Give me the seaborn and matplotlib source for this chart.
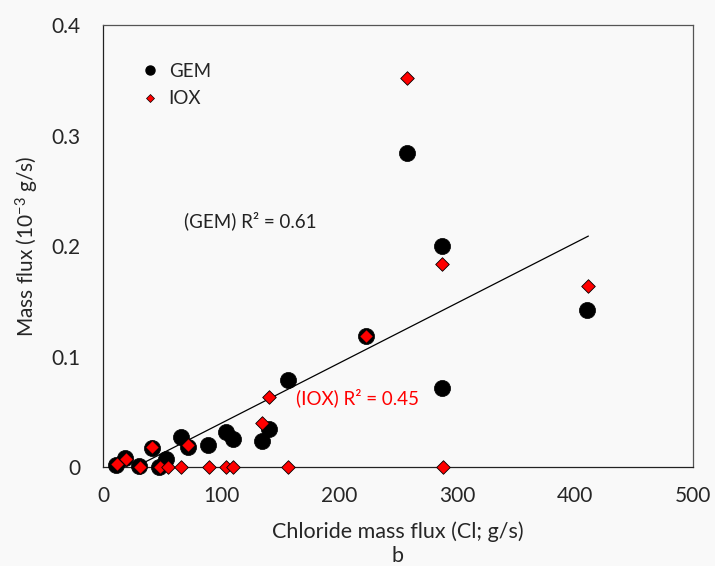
import numpy as np
import pandas as pd
import matplotlib.pyplot as plt
import seaborn as sns
from matplotlib.lines import Line2D
from matplotlib.ticker import MultipleLocator, FixedLocator, FixedFormatter

# chloride mass flux (g/s) vs mass flux (10^-3 g/s)
gem_x = [10.7, 18.6, 30.8, 41.2, 47.5, 53.0, 66.0, 71.7, 89.3, 104.2,
         110.4, 134.4, 141.0, 157.0, 222.9, 257.9, 287.3, 287.0, 410.4]
gem_y = [0.002, 0.008, 0.001, 0.0175, 0.0, 0.007, 0.027, 0.018, 0.020, 0.032,
         0.025, 0.0235, 0.034, 0.079, 0.1185, 0.2845, 0.200, 0.0712, 0.142]

iox_x = [11.6, 19.2, 31.4, 41.2, 48.3, 54.7, 66.0, 72.3, 90.0, 104.2,
         110.4, 134.4, 141.0, 157.0, 222.9, 257.9, 287.3, 287.8, 410.7]
iox_y = [0.003, 0.007, 0.0, 0.018, 0.0, 0.0, 0.0, 0.020, 0.0, 0.0,
         0.0, 0.0395, 0.0636, 0.0, 0.1185, 0.3517, 0.1837, 0.0, 0.1638]

# trendline ends
trend_x = [27.4, 411.3]
trend_y = [0.0, 0.209]

x_ticks = [0, 100, 200, 300, 400, 500]
x_ticklabels = ['0', '100', '200', '300', '400', '500']
y_ticks = [0, 0.1, 0.2, 0.3, 0.4]
y_ticklabels = ['0', '0.1', '0.2', '0.3', '0.4']

sns.set_style('white')
plt.rcParams['font.family'] = ['Lato', 'DejaVu Sans']
plt.rcParams['mathtext.fontset'] = 'custom'
plt.rcParams['mathtext.rm'] = 'Lato'
plt.rcParams['mathtext.it'] = 'Lato:italic'

bg = '#f9f9f9'
fig = plt.figure(figsize=(7.15, 5.66), dpi=100, facecolor=bg)
ax = fig.add_axes([0.1441, 0.1749, 0.8252, 0.7809])
ax.set_facecolor(bg)

gem = pd.DataFrame({'x': gem_x, 'y': gem_y})
iox = pd.DataFrame({'x': iox_x, 'y': iox_y})

sns.lineplot(x=trend_x, y=trend_y, color='black', linewidth=0.9, ax=ax, zorder=2)

sns.scatterplot(
    x='x', y='y', data=gem, ax=ax,
    color='black', marker='o', s=135,
    edgecolor='black', linewidth=0.5,
    clip_on=False, zorder=4
)
sns.scatterplot(
    x='x', y='y', data=iox, ax=ax,
    color='red', marker='D', s=48,
    edgecolor='black', linewidth=0.6,
    clip_on=False, zorder=5
)

ax.set_xlim(0, 500)
ax.set_ylim(0, 0.4)

ax.xaxis.set_major_locator(FixedLocator(x_ticks))
ax.xaxis.set_major_formatter(FixedFormatter(x_ticklabels))
ax.xaxis.set_minor_locator(MultipleLocator(50))
ax.yaxis.set_major_locator(FixedLocator(y_ticks))
ax.yaxis.set_major_formatter(FixedFormatter(y_ticklabels))
ax.yaxis.set_minor_locator(MultipleLocator(0.05))

ax.tick_params(which='major', direction='out', length=5, width=0.9,
               color='#222222', labelsize=15, pad=9)
ax.tick_params(which='minor', direction='out', length=10.5, width=0.9,
               color='#222222')
ax.tick_params(axis='y', which='major', pad=11)

for side in ['left', 'bottom']:
    ax.spines[side].set_color('#222222')
    ax.spines[side].set_linewidth(0.9)
for side in ['top', 'right']:
    ax.spines[side].set_color('#555555')
    ax.spines[side].set_linewidth(0.9)

ax.set_xlabel('Chloride mass flux (Cl; g/s)', fontsize=15.5, labelpad=11)
ax.set_ylabel('Mass flux (10$^{\\mathrm{-3}}$ g/s)', fontsize=15, labelpad=8)
fig.text(0.5566, 0.0, 'b', fontsize=15.5, ha='center', va='bottom')

ax.text(68.6, 0.2226, '(GEM) R² = 0.61', fontsize=13.5, color='#222222',
        ha='left', va='center')
ax.text(163.6, 0.0624, '(IOX) R² = 0.45', fontsize=13.5, color='red',
        ha='left', va='center')

handles = [
    Line2D([], [], linestyle='none', marker='o', color='black', markersize=6.5),
    Line2D([], [], linestyle='none', marker='D', markerfacecolor='red',
           markeredgecolor='black', markeredgewidth=0.5, markersize=4.5),
]
ax.legend(handles, ['GEM', 'IOX'], frameon=False, fontsize=13.5,
          loc='center left', bbox_to_anchor=(0.035, 0.864),
          handlelength=1.0, handletextpad=0.5, labelspacing=0.55)

fig.savefig('out.png', dpi=100, facecolor=bg)
